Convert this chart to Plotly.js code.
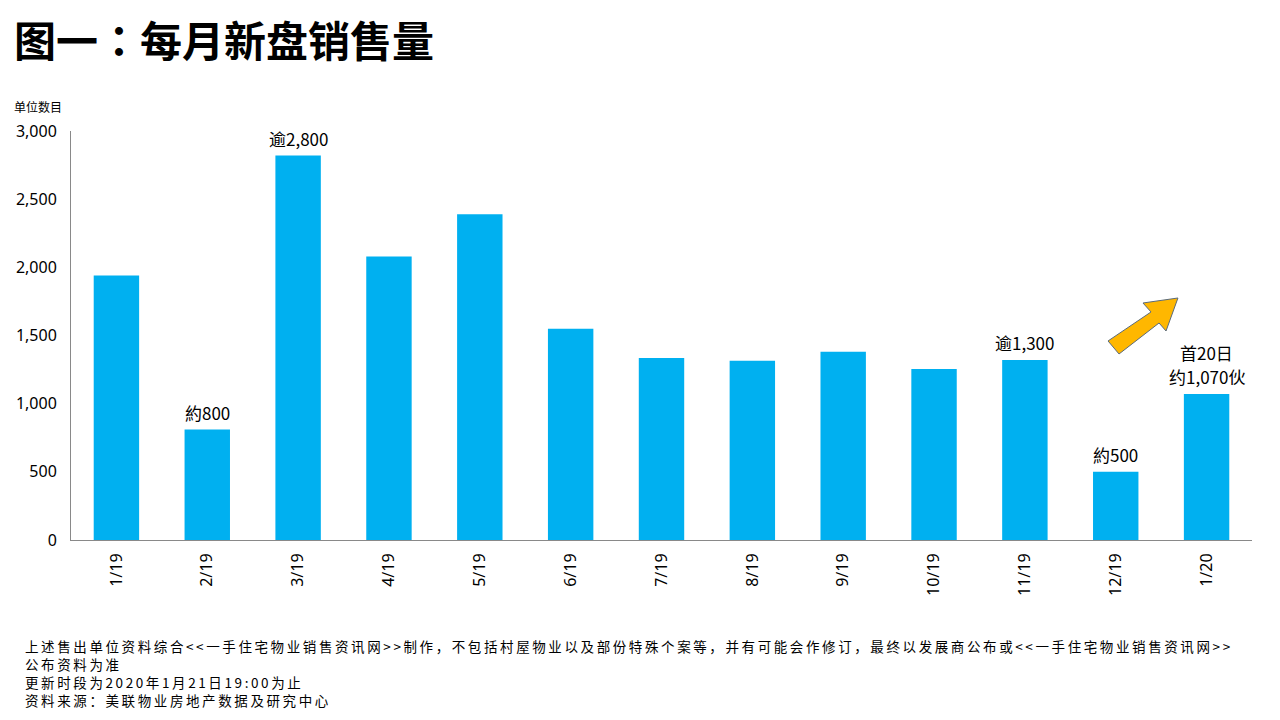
<!DOCTYPE html>
<html>
<head>
<meta charset="utf-8">
<script src="https://cdn.plot.ly/plotly-3.0.1.min.js"></script>
<style>
html,body{margin:0;padding:0;background:#fff;}
#chart{width:1280px;height:720px;}
</style>
</head>
<body>
<div id="chart"></div>
<script>
const months = ['1/19','2/19','3/19','4/19','5/19','6/19','7/19','8/19','9/19','10/19','11/19','12/19','1/20'];
const sales = [1940, 810, 2820, 2080, 2390, 1550, 1335, 1315, 1380, 1255, 1320, 500, 1070];
const yTicks = [0, 500, 1000, 1500, 2000, 2500, 3000];
const yTickLabels = ['0', '500', '1,000', '1,500', '2,000', '2,500', '3,000'];
const labelMonths = ['2/19', '3/19', '11/19', '12/19', '1/20', '1/20'];
const labelTexts = ['約800', '逾2,800', '逾1,300', '約500', '约1,070伙', '首20日'];
const labelLine = [0, 0, 0, 0, 0, 1];
const footLines = [
  '上述售出单位资料综合<<一手住宅物业销售资讯网>>制作，不包括村屋物业以及部份特殊个案等，并有可能会作修订，最终以发展商公布或<<一手住宅物业销售资讯网>>',
  '公布资料为准',
  '更新时段为2020年1月21日19:00为止',
  '资料来源：美联物业房地产数据及研究中心'
];

const FONT = '"Noto Sans", "Noto Sans CJK SC", sans-serif';
const CJK = '"Noto Sans CJK SC", "Noto Sans", sans-serif';

const annotations = labelMonths.map((m, i) => ({
  x: m, y: sales[months.indexOf(m)], xref: 'x', yref: 'y',
  text: labelTexts[i], showarrow: false, yanchor: 'bottom', borderpad: 0,
  yshift: 4 + labelLine[i] * 24,
  font: {family: CJK, size: 17, color: '#000'}
}));

const plotH = 409;
annotations.push({
  xref: 'paper', yref: 'paper', x: (12 - 71) / 1181, y: (540 - 107) / plotH, xanchor: 'left', yanchor: 'middle',
  text: '单位数目', showarrow: false, font: {family: CJK, size: 12, color: '#000'}
});

footLines.forEach((t, i) => {
  const py = 646 + i * 18;
  annotations.push({
    xref: 'paper', yref: 'paper', x: (23 - 71) / 1181, y: (540 - py) / plotH,
    xanchor: 'left', yanchor: 'middle',
    text: '<span style="letter-spacing:2.6px">' + t.replace(/</g, '&lt;').replace(/>/g, '&gt;') + '</span>',
    showarrow: false, font: {family: CJK, size: 13.5, color: '#000'}
  });
});

function px(x) { return ((x - 71) / 1181).toFixed(4); }
function py(y) { return ((540 - y) / plotH).toFixed(4); }
const arrowPts = [[1108,341],[1151,312],[1143,303],[1178,298],[1166,331],[1159,323],[1119,354]];
const arrowPath = 'M' + arrowPts.map(p => px(p[0]) + ',' + py(p[1])).join(' L') + ' Z';

const data = [{
  type: 'bar', x: months, y: sales,
  marker: {color: '#00B0F0'}, hoverinfo: 'skip'
}];

const layout = {
  width: 1280, height: 720,
  margin: {l: 71, r: 28, t: 131, b: 180},
  paper_bgcolor: '#fff', plot_bgcolor: '#fff',
  showlegend: false,
  bargap: 0.5,
  title: {text: '<b>图一<span style="font-family:\'Noto Sans CJK TC\'">：</span>每月新盘销售量</b>', x: 14/1280, xanchor: 'left', y: 1 - 42/720, yanchor: 'middle',
    font: {family: CJK, size: 42, color: '#000'}},
  xaxis: {
    type: 'category', tickangle: -90, showline: true, linecolor: '#898989', linewidth: 1,
    ticks: '', showgrid: false, zeroline: false,
    tickfont: {family: FONT, size: 16, color: '#000'}, ticklabelstandoff: 6
  },
  yaxis: {
    range: [0, 3000], tickvals: yTicks, ticktext: yTickLabels,
    showline: true, linecolor: '#898989', linewidth: 1, ticks: '', showgrid: false, zeroline: false,
    tickfont: {family: FONT, size: 16, color: '#000'}, ticklabelstandoff: 10
  },
  annotations: annotations,
  shapes: [{
    type: 'path', xref: 'paper', yref: 'paper', path: arrowPath,
    fillcolor: '#FFB700', line: {color: '#5B6B7B', width: 1}
  }]
};

Plotly.newPlot('chart', data, layout, {displayModeBar: false, staticPlot: true});
</script>
</body>
</html>
